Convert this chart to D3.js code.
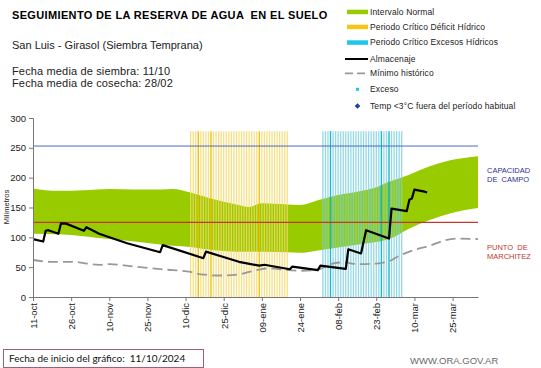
<!DOCTYPE html>
<html><head><meta charset="utf-8">
<script src="https://cdn.jsdelivr.net/npm/d3@7"></script>
<style>body{margin:0;background:#fff}svg{display:block}</style>
</head><body>
<svg id="c" width="541" height="368"></svg>
<script>
// ---- data ----
const tickLabels = ["11-oct","26-oct","10-nov","25-nov","10-dic","25-dic","09-ene","24-ene","08-feb","23-feb","10-mar","25-mar"];
const tickDays = [0,15,30,45,60,75,90,105,120,135,150,165];
const yTicks = [0,50,100,150,200,250,300];
const bandDays  = [0,10,20,30,40,50,55,62,70,80,85,90,100,105,112,120,128,135,140,148,156,164,175];
const bandUpper = [182,178,179,181,180,180,181,175,165,155,151,157,155,154,162,171,177,184,193,205,219,229,236];
const bandLower = [106,105,102,97,93,88,86,84,79,76,76,76,75,74,78,83,88,92,97,115,129,140,149];
const minDays = [0,7,15,26,30,40,52,62,66,74,81,85,89,93,100,105,112,117,122,128,135,140,144,150,156,162,167,175];
const minVals = [62,59,59,54,55,51,46,42,38,36,38,42,46,48,45,44,46,55,58,55,56,60,69,79,86,95,98,97];
const storDays = [0,4,5,6,10,11,13,20,21,26,37,50,51,67,68,81,89,91,101,102,112,113,123,124,129,131,140,141,147,148,149,150,154,155];
const storVals = [97,93,111,112,106,123.5,123,111,117,106,90,75,87,65,76,59,52.5,54,46.5,51,45,52.5,47,80,73,112,98,148,144,163,165,180,176.5,175];
const deficitStart = 62, deficitEnd = 100;
const excessStart = 114, excessEnd = 145;
const deficitDark = [65,70,89];
const excessDark = [117,137,140];
const fieldCapacity = 253;
const wiltingPoint = 125;
const stripeTop = 278;
const legendItems = ["Intervalo Normal","Periodo Crítico Déficit Hídrico","Periodo Crítico Excesos Hídricos","Almacenaje","Mínimo histórico","Exceso","Temp <3°C fuera del período habitual"];

// ---- layout ----
const svg = d3.select("#c");
const F = "'Liberation Sans', Arial, sans-serif";
const x = d3.scaleLinear().domain([0,175]).range([33,478]);
const y = d3.scaleLinear().domain([0,300]).range([297,118]);

// band
const band = bandDays.map((d,i)=>({d, u:bandUpper[i], l:bandLower[i]}));
svg.append("path").datum(band)
  .attr("d", d3.area().x(p=>x(p.d)).y0(p=>y(p.l)).y1(p=>y(p.u)).curve(d3.curveMonotoneX))
  .attr("fill","#99cc00");

// stripes
function stripes(s,e,dark,light,darkC){
  const days = d3.range(s,e+1);
  svg.append("g").selectAll("line").data(days).join("line")
    .attr("x1",d=>x(d)).attr("x2",d=>x(d))
    .attr("y1",y(stripeTop)).attr("y2",y(0))
    .attr("stroke",d=>dark.includes(d)?darkC:light)
    .attr("stroke-width",d=>dark.includes(d)?1.4:1.3)
    .attr("stroke-opacity",d=>dark.includes(d)?0.95:0.8);
}
stripes(deficitStart,deficitEnd,deficitDark,"#f4d867","#f0c000");
stripes(excessStart,excessEnd,excessDark,"#78cfe0","#12b2d4");

// reference lines
svg.append("line").attr("x1",x(0)).attr("x2",x(175)).attr("y1",y(fieldCapacity)).attr("y2",y(fieldCapacity))
  .attr("stroke","#4a6cc0").attr("stroke-width",1);
svg.append("line").attr("x1",x(0)).attr("x2",x(175)).attr("y1",y(wiltingPoint)).attr("y2",y(wiltingPoint))
  .attr("stroke","#c0392b").attr("stroke-width",1.2);

// minimum historic
svg.append("path").datum(minDays.map((d,i)=>[d,minVals[i]]))
  .attr("d", d3.line().x(p=>x(p[0])).y(p=>y(p[1])).curve(d3.curveMonotoneX))
  .attr("fill","none").attr("stroke","#999").attr("stroke-width",1.8).attr("stroke-dasharray","10,5");

// storage
svg.append("path").datum(storDays.map((d,i)=>[d,storVals[i]]))
  .attr("d", d3.line().x(p=>x(p[0])).y(p=>y(p[1])))
  .attr("fill","none").attr("stroke","#000").attr("stroke-width",2.2).attr("stroke-linejoin","round");

// axes
const yAx = svg.append("g").attr("transform","translate(33,0)")
  .call(d3.axisLeft(y).tickValues(yTicks).tickSize(4).tickPadding(3));
yAx.selectAll("text").attr("font-family",F).attr("font-size",9.5).attr("fill","#222");
yAx.selectAll("line,path").attr("stroke","#777");
const xAx = svg.append("g").attr("transform","translate(0,297)")
  .call(d3.axisBottom(x).tickValues(tickDays).tickFormat((d,i)=>tickLabels[i]).tickSize(4).tickSizeOuter(0));
xAx.selectAll("text").attr("font-family",F).attr("font-size",9.5).attr("fill","#222")
  .attr("transform","rotate(-90)").attr("text-anchor","end").attr("y",0).attr("x",-6).attr("dy","0.35em");
xAx.selectAll("line,path").attr("stroke","#777");

svg.append("text").attr("transform","translate(9,207) rotate(-90)").attr("text-anchor","middle")
  .attr("font-family",F).attr("font-size",7.5).attr("fill","#222").text("Milímetros");

// right labels
const rl = [["CAPACIDAD",173,"#2e3192"],["DE  CAMPO",182,"#2e3192"],["PUNTO  DE",250,"#c0392b"],["MARCHITEZ",259,"#c0392b"]];
rl.forEach(r=>svg.append("text").attr("x",487).attr("y",r[1]).attr("font-family",F).attr("font-size",7.5)
  .attr("fill",r[2]).style("white-space","pre").text(r[0]));

// titles
svg.append("text").attr("x",12).attr("y",19).attr("font-family",F).attr("font-size",11).attr("font-weight","bold")
  .attr("letter-spacing",0.35).attr("fill","#000").style("white-space","pre")
  .text("SEGUIMIENTO DE LA RESERVA DE AGUA  EN EL SUELO");
svg.append("text").attr("x",12).attr("y",49).attr("font-family",F).attr("font-size",11).attr("fill","#222")
  .text("San Luis - Girasol (Siembra Temprana)");
svg.append("text").attr("x",12).attr("y",75).attr("font-family",F).attr("font-size",11).attr("fill","#222")
  .attr("letter-spacing",0.15).text("Fecha media de siembra: 11/10");
svg.append("text").attr("x",12).attr("y",87).attr("font-family",F).attr("font-size",11).attr("fill","#222")
  .attr("letter-spacing",0.15).text("Fecha media de cosecha: 28/02");

// legend
const lg = svg.append("g");
const ly = [11.7,26.7,42.3,59,73.3,89.3,106];
legendItems.forEach((t,i)=>{
  const yy = ly[i];
  if(i<3){
    lg.append("rect").attr("x",347).attr("y",yy-2).attr("width",21).attr("height",4.5)
      .attr("fill",["#99cc00","#f5c518","#1ec8e8"][i]);
  } else if(i===3){
    lg.append("line").attr("x1",345).attr("x2",368).attr("y1",yy).attr("y2",yy).attr("stroke","#000").attr("stroke-width",2);
  } else if(i===4){
    lg.append("line").attr("x1",345).attr("x2",368).attr("y1",yy).attr("y2",yy).attr("stroke","#999").attr("stroke-width",1.8).attr("stroke-dasharray","8,4");
  } else if(i===5){
    lg.append("rect").attr("x",356).attr("y",yy-1.5).attr("width",3).attr("height",3).attr("fill","#1ec8e8");
  } else {
    lg.append("rect").attr("x",-2).attr("y",-2).attr("width",4).attr("height",4)
      .attr("transform",`translate(357.5,${yy}) rotate(45)`).attr("fill","#1f3ea8");
  }
  lg.append("text").attr("x",370).attr("y",yy+3).attr("font-family",F).attr("font-size",8.5)
    .attr("letter-spacing",0.12).attr("fill","#222").text(t);
});

// bottom box
svg.append("rect").attr("x",3.5).attr("y",349.5).attr("width",200).attr("height",18).attr("fill","#fff").attr("stroke","#a06070").attr("stroke-width",1);
svg.append("text").attr("x",9).attr("y",362).attr("font-family","Lato, 'Open Sans', sans-serif").attr("font-size",10)
  .attr("fill","#111").style("white-space","pre").text("Fecha de inicio del gráfico:  11/10/2024");
svg.append("text").attr("x",410).attr("y",364).attr("font-family",F).attr("font-size",9.5).attr("fill","#6a6a6a")
  .text("WWW.ORA.GOV.AR");
</script>
</body></html>
